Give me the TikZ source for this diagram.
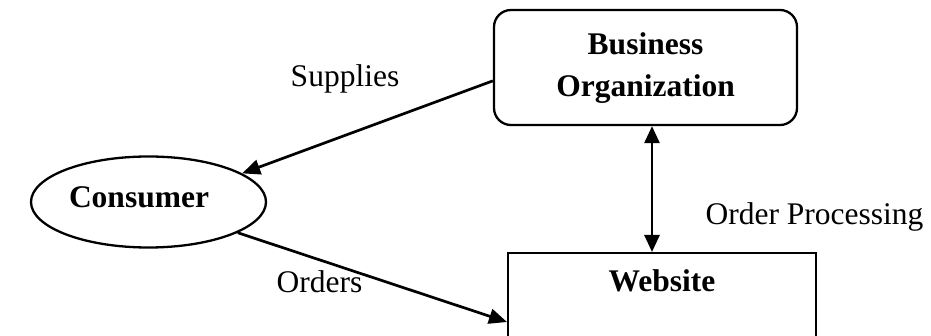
\documentclass[tikz,border=0pt]{standalone}
\usepackage{fontspec}
\setmainfont{Liberation Serif}
\usetikzlibrary{arrows.meta,shapes.geometric}

\tikzset{
  shapeline/.style={draw=black, line width=2.3pt},
  roundbox/.style={shapeline, rectangle, rounded corners=17pt, inner sep=0pt},
  plainbox/.style={shapeline, rectangle, inner sep=0pt},
  oval/.style={shapeline, ellipse, inner sep=0pt},
  title/.style={font=\fontsize{31.5}{42}\selectfont\bfseries, align=center, inner sep=0pt},
  caption/.style={font=\fontsize{31.5}{38}\selectfont, inner sep=0pt, anchor=base},
  flow/.style={line width=2.7pt, -{Triangle[length=18pt,width=15pt]}},
  twoway/.style={line width=2.7pt, {Triangle[length=17pt,width=15pt]}-{Triangle[length=17pt,width=15pt]}}
}

\begin{document}
\begin{tikzpicture}[x=1pt, y=-1pt]
  \clip (0,0) rectangle (931,336);

  % business organization (rounded box)
  \node[roundbox, minimum width=303pt, minimum height=115pt] (biz) at (645.5,67.5) {};
  \node[title] (biztext) at (645.5,68) {Business\\Organization};

  % consumer (ellipse)
  \node[oval, minimum width=235pt, minimum height=91pt] (cons) at (148.5,202) {};
  \node[title, anchor=base] (constext) at (139,208) {Consumer};

  % website (box running past the lower edge)
  \node[plainbox, anchor=north west, minimum width=308pt, minimum height=140pt] (web) at (507,252) {};
  \node[title, anchor=base] (webtext) at (662,292) {Website};

  % connectors
  \draw[flow] (biz.185.5) -- (cons.17.6);
  \draw[flow] (cons.-19.4) -- (web.west |- 0,322);
  \coordinate (vx) at (652,0);
  \draw[twoway] (vx |- biz.south) -- (vx |- web.north);

  % labels
  \node[caption] (supplies) at (345,87) {Supplies};
  \node[caption] (orders) at (319.5,293) {Orders};
  \node[caption] (processing) at (814.5,225) {Order Processing};
\end{tikzpicture}
\end{document}
